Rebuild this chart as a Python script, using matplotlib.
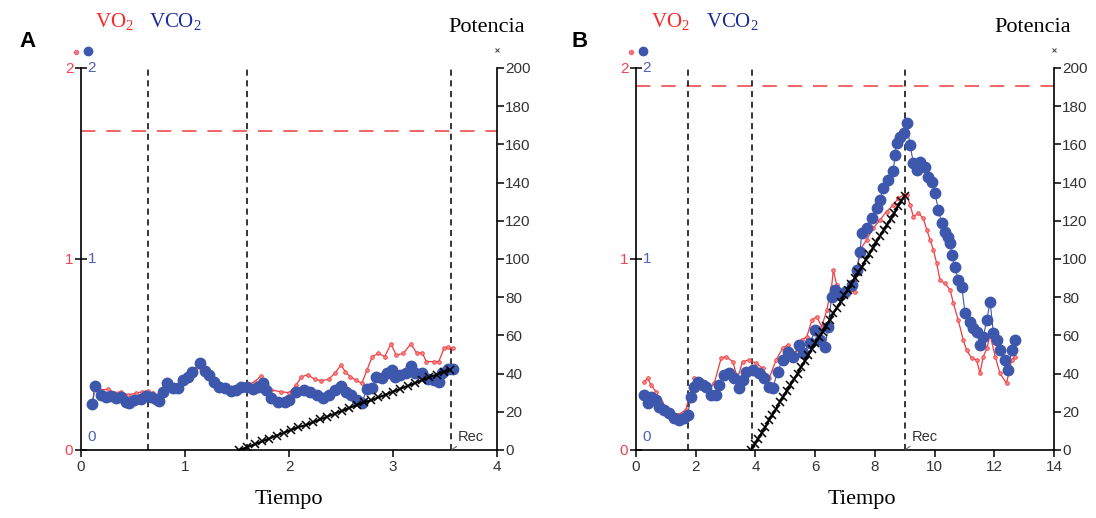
import matplotlib

matplotlib.use("Agg")
import matplotlib.pyplot as plt
from matplotlib.transforms import blended_transform_factory

# ---- panel A data ----
t_vco2_a = [0.11, 0.135, 0.19, 0.24, 0.29, 0.34, 0.385, 0.43, 0.465, 0.51, 0.58, 0.625, 0.67, 0.72,
            0.75, 0.785, 0.83, 0.88, 0.93, 0.98, 1.03, 1.07, 1.14, 1.19, 1.23, 1.28, 1.33, 1.38,
            1.44, 1.49, 1.54, 1.60, 1.65, 1.70, 1.75, 1.78, 1.83, 1.89, 1.96, 2.00, 2.07, 2.14,
            2.20, 2.27, 2.33, 2.38, 2.44, 2.50, 2.55, 2.60, 2.65, 2.70, 2.75, 2.80, 2.84, 2.89,
            2.94, 2.99, 3.02, 3.07, 3.12, 3.17, 3.21, 3.28, 3.34, 3.39, 3.44, 3.47, 3.53, 3.58]
vco2_a = [0.24, 0.335, 0.29, 0.279, 0.283, 0.27, 0.275, 0.253, 0.244, 0.26, 0.265, 0.283, 0.275, 0.265,
          0.258, 0.305, 0.349, 0.323, 0.323, 0.366, 0.384, 0.41, 0.454, 0.415, 0.393, 0.358, 0.332, 0.323,
          0.31, 0.314, 0.332, 0.332, 0.318, 0.332, 0.349, 0.314, 0.27, 0.253, 0.25, 0.262, 0.305, 0.314,
          0.305, 0.288, 0.27, 0.288, 0.314, 0.335, 0.305, 0.288, 0.262, 0.248, 0.318, 0.323, 0.384, 0.375,
          0.405, 0.419, 0.384, 0.393, 0.401, 0.44, 0.405, 0.401, 0.37, 0.366, 0.358, 0.401, 0.422, 0.422]

t_vo2_a = [0.11, 0.135, 0.18, 0.26, 0.32, 0.385, 0.45, 0.53, 0.59, 0.64, 0.69, 0.75, 0.80, 0.85,
           0.91, 0.98, 1.06, 1.12, 1.17, 1.23, 1.30, 1.35, 1.44, 1.54, 1.60, 1.67, 1.73, 1.78,
           1.83, 1.92, 2.00, 2.07, 2.12, 2.18, 2.25, 2.31, 2.38, 2.44, 2.50, 2.54, 2.59, 2.64,
           2.70, 2.75, 2.80, 2.86, 2.92, 2.98, 3.03, 3.10, 3.17, 3.23, 3.28, 3.32, 3.39, 3.44,
           3.49, 3.53, 3.58]
vo2_a = [0.24, 0.352, 0.314, 0.318, 0.30, 0.305, 0.288, 0.297, 0.305, 0.31, 0.297, 0.279, 0.332, 0.352,
         0.332, 0.375, 0.401, 0.436, 0.41, 0.384, 0.332, 0.314, 0.314, 0.34, 0.34, 0.358, 0.387, 0.349,
         0.314, 0.305, 0.30, 0.34, 0.384, 0.393, 0.37, 0.363, 0.37, 0.401, 0.445, 0.41, 0.384, 0.366,
         0.349, 0.419, 0.489, 0.506, 0.489, 0.555, 0.497, 0.506, 0.555, 0.506, 0.51, 0.463, 0.463, 0.463,
         0.532, 0.54, 0.532]

t_pow_a = [1.52, 1.60, 1.67, 1.74, 1.81, 1.88, 1.95, 2.02, 2.09, 2.16, 2.23, 2.30, 2.37, 2.44, 2.51,
           2.58, 2.65, 2.72, 2.79, 2.86, 2.93, 3.00, 3.07, 3.14, 3.21, 3.28, 3.35, 3.42, 3.49, 3.55]
pow_a = [0, 1.5, 3, 4.5, 6, 7.5, 9, 10.5, 12, 13, 14.5, 16, 17.5, 19, 20.5,
         22, 23.5, 25, 26, 27.5, 29, 30.5, 32, 33.5, 35, 36.5, 38, 39.5, 41, 42]

# ---- panel B data ----
t_vco2_b = [0.28, 0.39, 0.50, 0.67, 0.78, 0.95, 1.12, 1.28, 1.45, 1.62, 1.73, 1.84, 1.95, 2.06,
            2.23, 2.34, 2.51, 2.68, 2.79, 2.96, 3.13, 3.29, 3.46, 3.57, 3.68, 3.91, 4.13, 4.30,
            4.46, 4.58, 4.74, 4.91, 5.08, 5.25, 5.47, 5.60, 5.83, 6.00, 6.16, 6.33, 6.44, 6.55,
            6.66, 6.83, 6.99, 7.22, 7.39, 7.50, 7.56, 7.72, 7.89, 8.06, 8.17, 8.28, 8.45, 8.62,
            8.67, 8.73, 8.84, 8.96, 9.06, 9.18, 9.29, 9.40, 9.51, 9.68, 9.79, 9.90, 10.01, 10.13,
            10.24, 10.35, 10.46, 10.52, 10.57, 10.68, 10.79, 10.91, 11.02, 11.19, 11.30, 11.41, 11.52,
            11.63, 11.75, 11.86, 11.97, 12.08, 12.19, 12.36, 12.47, 12.58, 12.69]
vco2_b = [0.288, 0.244, 0.279, 0.262, 0.227, 0.21, 0.192, 0.166, 0.157, 0.166, 0.183, 0.279, 0.332, 0.358,
          0.34, 0.332, 0.288, 0.288, 0.34, 0.393, 0.401, 0.375, 0.323, 0.366, 0.41, 0.419, 0.401, 0.375,
          0.332, 0.323, 0.41, 0.471, 0.515, 0.489, 0.55, 0.506, 0.558, 0.628, 0.576, 0.541, 0.646, 0.803,
          0.838, 0.812, 0.829, 0.864, 0.942, 1.038, 1.134, 1.161, 1.213, 1.266, 1.309, 1.37, 1.414, 1.458,
          1.545, 1.606, 1.641, 1.658, 1.71, 1.597, 1.501, 1.466, 1.51, 1.483, 1.431, 1.405, 1.344, 1.257,
          1.187, 1.143, 1.117, 1.082, 1.021, 0.96, 0.89, 0.855, 0.716, 0.672, 0.637, 0.62, 0.55,
          0.593, 0.681, 0.777, 0.611, 0.576, 0.524, 0.471, 0.419, 0.524, 0.576]

t_vo2_b = [0.28, 0.39, 0.50, 0.67, 0.84, 1.12, 1.40, 1.67, 1.79, 1.95, 2.18, 2.40, 2.62, 2.85,
           3.01, 3.24, 3.40, 3.57, 3.79, 4.02, 4.24, 4.46, 4.69, 4.91, 5.08, 5.25, 5.47, 5.55,
           5.72, 5.89, 6.05, 6.22, 6.39, 6.55, 6.61, 6.72, 6.89, 7.11, 7.33, 7.50, 7.72, 7.94,
           8.17, 8.39, 8.62, 8.78, 8.96, 9.07, 9.18, 9.29, 9.46, 9.62, 9.74, 9.85, 9.96, 10.07,
           10.18, 10.35, 10.52, 10.63, 10.79, 10.96, 11.07, 11.24, 11.41, 11.52, 11.63, 11.75, 11.86,
           12.03, 12.19, 12.41, 12.58, 12.69]
vo2_b = [0.358, 0.375, 0.34, 0.305, 0.253, 0.21, 0.183, 0.21, 0.288, 0.375, 0.366, 0.314, 0.349, 0.48,
         0.489, 0.463, 0.375, 0.463, 0.471, 0.454, 0.428, 0.375, 0.471, 0.532, 0.55, 0.506, 0.524, 0.576,
         0.593, 0.68, 0.698, 0.646, 0.733, 0.855, 0.942, 0.864, 0.829, 0.829, 0.829, 1.047, 1.099, 1.161,
         1.204, 1.248, 1.283, 1.318, 1.335, 1.335, 1.283, 1.222, 1.239, 1.213, 1.152, 1.10, 1.047, 0.977,
         0.89, 0.872, 0.838, 0.768, 0.681, 0.576, 0.524, 0.48, 0.471, 0.401, 0.489, 0.532, 0.602,
         0.489, 0.401, 0.349, 0.471, 0.489]

t_pow_b = [3.85, 3.97, 4.09, 4.21, 4.33, 4.45, 4.57, 4.69, 4.81, 4.93, 5.05, 5.17, 5.29, 5.41, 5.53,
           5.65, 5.77, 5.89, 6.01, 6.13, 6.25, 6.37, 6.49, 6.61, 6.73, 6.85, 6.97, 7.09, 7.21, 7.33,
           7.45, 7.57, 7.69, 7.81, 7.93, 8.05, 8.17, 8.29, 8.41, 8.53, 8.65, 8.77, 8.89, 9.00]
pow_b = [0, 3, 6, 9, 12, 15.5, 18.5, 21.5, 25, 28, 31, 34, 37, 40, 43.5,
         46.5, 49.5, 53, 56, 59, 62, 65, 68, 71.5, 74.5, 77.5, 81, 84, 87, 90,
         93, 96, 99.5, 102.5, 105.5, 109, 112, 115, 118, 121, 124, 127.5, 130.5, 133]

# phase markers and reference level
phases_a = [0.64, 1.60, 3.56]
phases_b = [1.74, 3.88, 9.00]
ref_a = 1.67
ref_b = 1.905

RED = "#ef3b3f"
BLUE = "#3d57ad"
DARK_BLUE = "#1c2c9c"
SANS = "Liberation Sans"
SERIF = "Liberation Serif"

fig = plt.figure(figsize=(10.96, 5.18), dpi=100)


def draw_panel(rect, xmax, xticks, t_vco2, vco2, t_vo2, vo2, t_pow, pw, phases, ref,
               letter, fx):
    ax = fig.add_axes(rect)
    ax.set_xlim(0, xmax)
    ax.set_ylim(0, 2)
    for s in ["top", "right"]:
        ax.spines[s].set_visible(False)
    ax.spines["left"].set_linewidth(1.2)
    ax.spines["bottom"].set_linewidth(1.2)

    ax.axhline(ref, color="#f05a5a", lw=1.3, dashes=(8, 6), zorder=1)
    for p in phases:
        ax.axvline(p, color="black", lw=1.1, dashes=(4, 3), zorder=1)

    ax.plot(t_vo2, vo2, color=RED, lw=0.9, marker="o", ms=2.6, mfc="#f88", mec=RED,
            mew=0.6, zorder=3, clip_on=False)
    ax.plot(t_vco2, vco2, color=BLUE, lw=0.8, marker="o", ms=7.5, mec=BLUE, zorder=4,
            clip_on=False)

    ax.set_xticks(xticks)
    ax.set_yticks([0, 1, 2])
    ax.tick_params(axis="x", direction="out", length=5, width=1.1, labelsize=11,
                   labelcolor="#333333", pad=2)
    ax.tick_params(axis="y", direction="inout", length=9, width=1.1, labelsize=11,
                   labelcolor="#ef4450", pad=1)
    for lab in ax.get_xticklabels() + ax.get_yticklabels():
        lab.set_fontfamily(SANS)

    # blue copies of the left tick labels, inside the axis
    tr = blended_transform_factory(ax.transAxes, ax.transData)
    for val, dy in [(2, 0), (1, 0), (0, 0.07)]:
        ax.text(0.016, val + dy, str(val), transform=tr, ha="left", va="center",
                color="#4a62b8", fontsize=11, family=SANS)

    # little symbol keys above the axes
    ax.plot([-0.012], [1.043], transform=ax.transAxes, marker="o", ms=3, color="#f07080",
            clip_on=False, ls="none")
    ax.plot([0.016], [1.044], transform=ax.transAxes, marker="o", ms=6, color=BLUE,
            clip_on=False, ls="none")
    ax.plot([1.0], [1.048], transform=ax.transAxes, marker="x", ms=3.5, mew=0.8,
            color="#555555", clip_on=False, ls="none")

    ax2 = ax.twinx()
    ax2.set_ylim(0, 200)
    ax2.set_yticks(range(0, 201, 20))
    for s in ["top", "left", "bottom"]:
        ax2.spines[s].set_visible(False)
    ax2.spines["right"].set_linewidth(1.2)
    ax2.tick_params(axis="y", direction="out", length=5, width=1.1, labelsize=11,
                    labelcolor="#333333", pad=1)
    for lab in ax2.get_yticklabels():
        lab.set_fontfamily(SANS)
    ax2.plot(t_pow, pw, color="black", lw=1.5, marker="x", ms=6, mew=1.1, zorder=5)

    ax.annotate("Rec", xy=(phases[-1], 0), xytext=(phases[-1] + xmax * 0.016, 0.07),
                fontsize=10.5, family=SANS, color="#333333", va="center",
                arrowprops=dict(arrowstyle="-", color="#555555", lw=0.7, shrinkA=0, shrinkB=0))

    # headings
    fig.text(fx["letter"], 0.919, letter, fontsize=16, fontweight="bold", family=SANS,
             ha="center", va="center")
    fig.text(fx["vo2"], 0.957, r"VO$_\mathregular{2}$", color="#ff2525", fontsize=15,
             family=SERIF, va="center")
    fig.text(fx["vco2"], 0.957, r"VCO$_\mathregular{2}$", color=DARK_BLUE, fontsize=15,
             family=SERIF, va="center")
    fig.text(fx["pot"], 0.946, "Potencia", fontsize=16, family=SERIF, ha="center", va="center")
    fig.text(fx["tiempo"], 0.035, "Tiempo", fontsize=16, family=SERIF, ha="center", va="center")
    return ax


draw_panel([0.0739, 0.1313, 0.3796, 0.7375], 4, [0, 1, 2, 3, 4],
           t_vco2_a, vco2_a, t_vo2_a, vo2_a, t_pow_a, pow_a, phases_a, ref_a, "A",
           dict(letter=0.0255, vo2=0.0867, vco2=0.136, pot=0.4443, tiempo=0.2637))
draw_panel([0.5803, 0.1313, 0.3814, 0.7375], 14, list(range(0, 15, 2)),
           t_vco2_b, vco2_b, t_vo2_b, vo2_b, t_pow_b, pow_b, phases_b, ref_b, "B",
           dict(letter=0.529, vo2=0.594, vco2=0.644, pot=0.9425, tiempo=0.7865))

fig.savefig("out.png", dpi=100)
